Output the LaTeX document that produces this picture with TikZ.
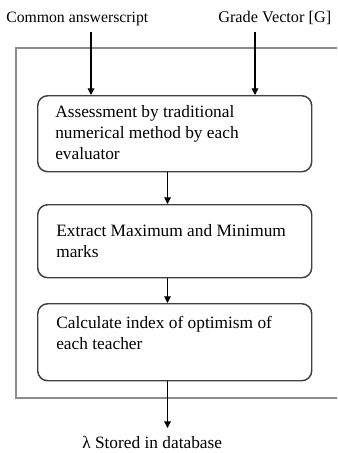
\documentclass[tikz,border=0pt]{standalone}
\usepackage{fontspec}
\setmainfont{Liberation Serif}
\usetikzlibrary{arrows.meta}
\begin{document}
\begin{tikzpicture}[x=0.75pt,y=-0.75pt,
  stepbox/.style={draw=black!75, line width=1.1pt, rounded corners=7.5pt, minimum width=205.5pt, anchor=north west, inner sep=0pt},
  boxtext/.style={anchor=north west, align=left, inner sep=0pt, font=\fontsize{13}{15.75}\selectfont},
  lbl/.style={anchor=base west, inner sep=0pt},
  arr/.style={draw=black, line width=0.8pt, -{Triangle[length=5pt,width=5pt]}},
  frame/.style={draw=black!45, line width=0.8pt}]
\useasboundingbox (0,0) rectangle (337,453);
% outer frame (open on the right, cut by the edge)
\draw[frame] (337,48) -- (16,48) -- (16,398) -- (337,398);
% boxes
\node[stepbox, minimum height=57pt] (b1) at (37,95) {};
\node[stepbox, minimum height=54.75pt] (b2) at (37,204) {};
\node[stepbox, minimum height=57.75pt] (b3) at (37,303) {};
% texts
\node[boxtext] (t1) at (55,105) {Assessment by traditional\\numerical method by each\\evaluator};
\node[boxtext] (t2) at (56,224.5) {Extract Maximum and Minimum\\marks};
\node[boxtext] (t3) at (56,316) {Calculate index of optimism of\\each teacher};
% labels
\node[lbl, font=\fontsize{11.8}{14}\selectfont] (in1) at (6,23) {Common answerscript};
\node[lbl, font=\fontsize{12.2}{14}\selectfont] (in2) at (218,23) {Grade Vector [G]};
\node[lbl, font=\fontsize{13}{15}\selectfont] (out) at (82,448) {λ Stored in database};
% connectors
\coordinate (s1) at (91,32);
\coordinate (s2) at (255,32);
\coordinate (e3) at (167.5,428);
\draw[arr] (s1) -- (s1 |- b1.north);
\draw[arr] (s2) -- (s2 |- b1.north);
\draw[arr] (e3 |- b1.south) -- (e3 |- b2.north);
\draw[arr] (e3 |- b2.south) -- (e3 |- b3.north);
\draw[arr] (e3 |- b3.south) -- (e3);
\end{tikzpicture}
\end{document}
